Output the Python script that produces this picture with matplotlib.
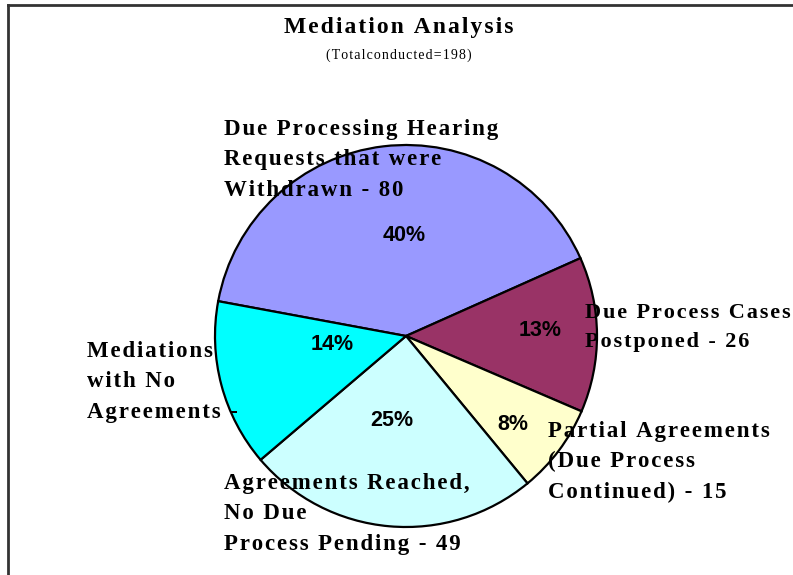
import matplotlib
matplotlib.use('Agg')
import matplotlib.pyplot as plt
from matplotlib.lines import Line2D

# veriler
labels = ['Due Processing Hearing\nRequests that were\nWithdrawn - 80',
          'Due Process Cases\nPostponed - 26',
          'Partial Agreements\n(Due Process\nContinued) - 15',
          'Agreements Reached,\nNo Due\nProcess Pending - 49',
          'Mediations\nwith No\nAgreements -']
counts = [80, 26, 15, 49, 28]
colors = ['#9999FF', '#993366', '#FFFFCC', '#CCFFFF', '#00FFFF']
total = 198

# etiket konumlari (piksel, sol ust) ve boyutlari
label_pos = [(224, 119), (585, 303), (548, 421), (224, 473), (87, 341)]
label_size = [16.5, 16, 16.5, 16.5, 16.5]
pct_pos = [(404, 235), (540, 331), (513, 424), (392, 421), (332, 344)]

W, H = 793, 575
fig = plt.figure(figsize=(W / 100, H / 100), dpi=100)

SERIF = ['Liberation Serif', 'DejaVu Serif']


def spaced(s):
    # harfler arasina ince bosluk koyarak aralikli yazi
    return '\n'.join('\u200a'.join(line) for line in s.split('\n'))


# pasta: merkez (406,336), yaricap 191 px
cx, cy, r = 406, 336, 191
half = 200
ax = fig.add_axes([(cx - half) / W, 1 - (cy + half) / H, 2 * half / W, 2 * half / H])
ax.pie(counts, colors=colors, startangle=169.5, counterclock=False,
       wedgeprops=dict(edgecolor='black', linewidth=1.6))
lim = half / r
ax.set_xlim(-lim, lim)
ax.set_ylim(-lim, lim)
ax.axis('off')

# yuzdeler
for c, (px, py) in zip(counts, pct_pos):
    fig.text(px / W, 1 - py / H, f'{100 * c / total:.0f}%', ha='center', va='center',
             family=['Liberation Sans', 'DejaVu Sans'], fontweight='bold', fontsize=15.5)

# kategori etiketleri
for lab, (px, py), fs in zip(labels, label_pos, label_size):
    fig.text(px / W, 1 - py / H, spaced(lab), ha='left', va='top', family=SERIF,
             fontweight='bold', fontsize=fs, linespacing=1.58 * 16.5 / fs, zorder=5)

# baslik
fig.text(399 / W, 1 - 28 / H, spaced('Mediation Analysis'), ha='center', va='center',
         family=SERIF, fontweight='bold', fontsize=17)
fig.text(399 / W, 1 - 55 / H, spaced('(Totalconducted=198)'), ha='center', va='center',
         family=SERIF, fontsize=10)

# cerceve (sol ve ust)
fig.add_artist(Line2D([8 / W, 8 / W], [0, 1 - 5 / H], color='#333333', lw=2))
fig.add_artist(Line2D([8 / W, 1], [1 - 5 / H, 1 - 5 / H], color='#333333', lw=2))

fig.savefig('out.png', dpi=100, facecolor='white')
